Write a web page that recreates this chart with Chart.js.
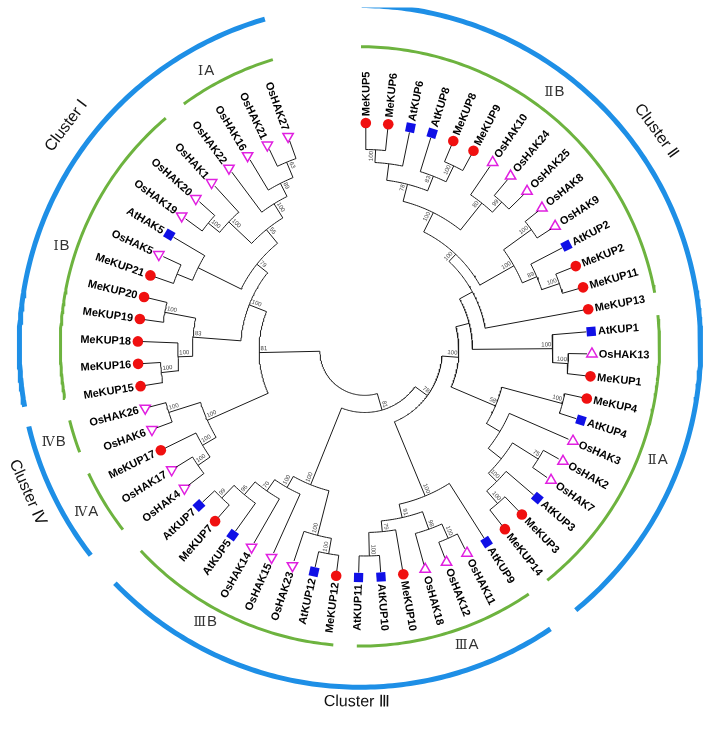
<!DOCTYPE html>
<html>
<head>
<meta charset="utf-8">
<title>Phylogenetic tree of KUP/HAK/KT potassium transporters</title>
<script src="https://cdn.jsdelivr.net/npm/chart.js@4.4.1/dist/chart.umd.min.js"></script>
<style>
html,body{margin:0;padding:0;background:#ffffff;overflow:hidden;}
canvas{display:block;}
</style>
</head>
<body>
<canvas id="tree" width="714" height="729"></canvas>
<script>
// ================= DATA =================
// Leaves, in clockwise order starting at the top of the circle
const leavesIIB  = ["MeKUP5","MeKUP6","AtKUP6","AtKUP8","MeKUP8","MeKUP9","OsHAK10","OsHAK24","OsHAK25","OsHAK8","OsHAK9","AtKUP2","MeKUP2","MeKUP11","MeKUP13"];
const leavesIIA  = ["AtKUP1","OsHAK13","MeKUP1","MeKUP4","AtKUP4","OsHAK3","OsHAK2","OsHAK7","AtKUP3","MeKUP3","MeKUP14"];
const leavesIIIA = ["AtKUP9","OsHAK11","OsHAK12","OsHAK18","MeKUP10","AtKUP10","AtKUP11"];
const leavesIIIB = ["MeKUP12","AtKUP12","OsHAK23","OsHAK15","OsHAK14","AtKUP5","MeKUP7","AtKUP7"];
const leavesIV   = ["OsHAK4","OsHAK17","MeKUP17","OsHAK6","OsHAK26"];
const leavesI    = ["MeKUP15","MeKUP16","MeKUP18","MeKUP19","MeKUP20","MeKUP21","OsHAK5","AtHAK5","OsHAK19","OsHAK20","OsHAK1","OsHAK22","OsHAK16","OsHAK21","OsHAK27"];

// Internal nodes: [id, child A, child B, node depth (distance from root), bootstrap]
const nodesII = [
  ["n1","MeKUP5","MeKUP6",205,100], ["n2","n1","AtKUP6",192,null],
  ["n3","MeKUP8","MeKUP9",209,100], ["n4","AtKUP8","n3",191,83],
  ["n5","n2","n4",175,78], ["n6","OsHAK24","OsHAK25",206,99],
  ["n7","OsHAK10","n6",192,80], ["n8","n5","n7",157,100],
  ["n9","OsHAK8","OsHAK9",210,100], ["n10","MeKUP2","MeKUP11",210,100],
  ["n11","AtKUP2","n10",191,89], ["n12","n9","n11",175,100],
  ["n13","n8","n12",135,100], ["n14","n13","MeKUP13",125,null],
  ["n15","OsHAK13","MeKUP1",208,100], ["n16","AtKUP1","n15",192,100],
  ["n17","n14","n16",110,null], ["n20","MeKUP4","AtKUP4",209,100],
  ["n23","OsHAK2","OsHAK7",209,75], ["n25","MeKUP3","MeKUP14",207,100],
  ["n24","AtKUP3","n25",190,100], ["n22","n23","n24",178,null],
  ["n21","OsHAK3","n22",161,null], ["n19","n20","n21",145,58],
  ["n18","n17","n19",96,100]
];
const nodesIII = [
  ["a1","OsHAK11","OsHAK12",210,100], ["a2","a1","OsHAK18",194,98],
  ["a3","AtKUP10","AtKUP11",210,100], ["a4","MeKUP10","a3",186,79],
  ["a5","a2","a4",175,91], ["a6","AtKUP9","a5",161,100],
  ["b78","a6","n18",79,78],
  ["b1","MeKUP12","AtKUP12",211,100], ["b2","b1","OsHAK23",195,100],
  ["b3","MeKUP7","AtKUP7",210,99], ["b4","AtKUP5","b3",192,96],
  ["b5","OsHAK14","b4",175,70], ["b6","OsHAK15","b5",161,100],
  ["b7","b2","b6",148,100], ["b81","b78","b7",63.5,81]
];
const nodesIandIV = [
  ["d1","OsHAK4","OsHAK17",207,100], ["d2","d1","MeKUP17",192,100],
  ["d3","OsHAK6","OsHAK26",210,100], ["d4","d2","d3",176,100],
  ["e1","MeKUP15","MeKUP16",209,100], ["e2","e1","MeKUP18",191,100],
  ["e3","MeKUP19","MeKUP20",208,100], ["e4","e2","e3",176,83],
  ["e5","MeKUP21","OsHAK5",207,null], ["e6","e5","AtHAK5",190,null],
  ["e7","OsHAK19","OsHAK20",206,100], ["e8","e7","OsHAK1",191,100],
  ["e9","OsHAK21","OsHAK27",208,63], ["e10","OsHAK16","e9",191,89],
  ["e11","OsHAK22","e10",176,100], ["e12","e8","e11",159,55],
  ["e13","e6","e12",141,79], ["e14","e4","e13",127,100],
  ["l81","d4","e14",108,81], ["root","b81","l81",46,null]
];

// Cluster rings: names and angular extent in degrees (clockwise from top)
const clusterNames = ["Cluster Ⅱ","Cluster Ⅲ","Cluster Ⅳ","Cluster Ⅰ"];
const clusterSpans = [[0.3,140.7],[146,226],[232.2,256.4],[259.8,343.8]];
const subgroupNames = ["ⅡB","ⅡA","ⅢA","ⅢB","ⅣA","ⅣB","ⅠB","ⅠA"];
const subgroupSpans = [[0.2,79.7],[84,141.3],[145.7,180.6],[185.1,227],[232.3,244.9],[249.3,255.7],[260,319.6],[324,343.1]];

// ================= LAYOUT / STYLE =================
const W = 714, H = 729;
const TREE_CX = 365, TREE_CY = 350;          // tree centre in canvas px
const RING_DX = -5, RING_DY = -4;             // ring centre offset from tree centre
const START_DEG = 0.25, SPAN_DEG = 340;       // angular layout of leaves
const LEAF_LINE_R = 227, MARKER_R = 232, LABEL_R = 239;
const BLUE_R = 348, GREEN_R = 306;
const clusterLabelLayout = [[54,374],[180.5,363],[246.3,371],[306.9,375]];
const subgroupLabelLayout = [[37.3,328],[110.6,325],[160.2,322],[209.5,321],[239,326],[253,327],[288.8,322],[330.9,323]];
const COL_ME = "#f01010", COL_AT = "#1010e6", COL_OS = "#e020e0";
const COL_BLUE = "#1e8fe6", COL_GREEN = "#6db33f";

// ================= BUILD GEOMETRY =================
const leaves = [].concat(leavesIIB, leavesIIA, leavesIIIA, leavesIIIB, leavesIV, leavesI);
const nodes = [].concat(nodesII, nodesIII, nodesIandIV);
const STEP = SPAN_DEG / (leaves.length - 1);
const ang = {}, rad = {};
leaves.forEach((n, i) => { ang[n] = START_DEG + i * STEP; rad[n] = LEAF_LINE_R; });
nodes.forEach(([id, a, b, r]) => { ang[id] = (ang[a] + ang[b]) / 2; rad[id] = r; });

function pol(r, deg, dx = 0, dy = 0) {
  const t = deg * Math.PI / 180;
  return { x: dx + r * Math.sin(t), y: -dy + r * Math.cos(t) };
}
const GAP = { x: NaN, y: null };
function arcPts(out, r, a0, a1, dx, dy) {
  for (let t = a0; t < a1; t += 0.75) out.push(pol(r, t, dx, dy));
  out.push(pol(r, a1, dx, dy));
  out.push(GAP);
}

const treeLines = [];
nodes.forEach(([id, a, b, r]) => {
  [a, b].forEach(c => { treeLines.push(pol(r, ang[c]), pol(rad[c], ang[c]), GAP); });
  arcPts(treeLines, r, Math.min(ang[a], ang[b]), Math.max(ang[a], ang[b]), 0, 0);
});
const blueLines = [], greenLines = [];
clusterSpans.forEach(([s, e]) => arcPts(blueLines, BLUE_R, s, e, RING_DX, RING_DY));
subgroupSpans.forEach(([s, e]) => arcPts(greenLines, GREEN_R, s, e, RING_DX, RING_DY));

function markerData(prefix) {
  return leaves.filter(n => n.startsWith(prefix)).map(n => Object.assign(pol(MARKER_R, ang[n]), { a: ang[n] }));
}

// ================= TEXT PLUGIN =================
const textPlugin = {
  id: "treeText",
  afterDatasetsDraw(chart) {
    const ctx = chart.ctx, xs = chart.scales.x, ys = chart.scales.y;
    const px = p => ({ x: xs.getPixelForValue(p.x), y: ys.getPixelForValue(p.y) });
    ctx.save();
    // leaf labels
    ctx.fillStyle = "#000";
    ctx.font = "bold 11px 'Liberation Sans', Arial, sans-serif";
    ctx.textBaseline = "middle";
    leaves.forEach(n => {
      const a = ang[n], p = px(pol(LABEL_R, a));
      ctx.save(); ctx.translate(p.x, p.y);
      if (a < 180) { ctx.rotate((a - 90) * Math.PI / 180); ctx.textAlign = "left"; }
      else { ctx.rotate((a - 270) * Math.PI / 180); ctx.textAlign = "right"; }
      ctx.fillText(n, 0, 0.5);
      ctx.restore();
    });
    // bootstrap values
    ctx.fillStyle = "#444";
    ctx.font = "6px 'Liberation Sans', Arial, sans-serif";
    ctx.textBaseline = "bottom";
    nodes.forEach(([id, a, b, r, bs]) => {
      if (bs === null) return;
      const t = ang[id], p = px(pol(r - 1.5, t));
      ctx.save(); ctx.translate(p.x, p.y);
      if (t < 180) { ctx.rotate((t - 90) * Math.PI / 180); ctx.textAlign = "right"; }
      else { ctx.rotate((t - 270) * Math.PI / 180); ctx.textAlign = "left"; }
      ctx.fillText(String(bs), 0, -1);
      ctx.restore();
    });
    // cluster labels (tangential)
    ctx.fillStyle = "#111";
    ctx.font = "16px 'Liberation Sans', Arial, 'DejaVu Sans', sans-serif";
    ctx.textAlign = "center"; ctx.textBaseline = "middle";
    clusterNames.forEach((name, i) => {
      const [t, r] = clusterLabelLayout[i];
      const p = px(pol(r, t, RING_DX, RING_DY));
      let rot = t;                     // clockwise tangent
      if (t > 90 && t < 270) rot = t - 180;
      ctx.save(); ctx.translate(p.x, p.y); ctx.rotate(rot * Math.PI / 180);
      ctx.fillText(name, 0, 0);
      ctx.restore();
    });
    // sub-group labels (horizontal): Roman numeral + letter drawn as two runs
    ctx.fillStyle = "#333";
    ctx.textBaseline = "alphabetic";
    ctx.textAlign = "left";
    const fontNum = "13px 'DejaVu Serif', serif", fontLet = "15px 'Liberation Sans', Arial, sans-serif";
    subgroupNames.forEach((name, i) => {
      const [t, r] = subgroupLabelLayout[i];
      const p = px(pol(r, t, RING_DX, RING_DY));
      const num = name.slice(0, 1), let_ = name.slice(1);
      ctx.font = fontNum; const wN = ctx.measureText(num).width;
      ctx.font = fontLet; const wL = ctx.measureText(let_).width;
      const x0 = p.x - (wN + 1 + wL) / 2, yb = p.y + 5.5;
      ctx.font = fontNum; ctx.fillText(num, x0, yb);
      ctx.font = fontLet; ctx.fillText(let_, x0 + wN + 1, yb);
    });
    ctx.restore();
  }
};

// ================= CHART =================
new Chart(document.getElementById("tree"), {
  type: "scatter",
  data: {
    datasets: [
      { data: treeLines, showLine: true, borderColor: "#1a1a1a", borderWidth: 1, pointRadius: 0, spanGaps: false },
      { data: blueLines, showLine: true, borderColor: COL_BLUE, borderWidth: 5, pointRadius: 0, spanGaps: false },
      { data: greenLines, showLine: true, borderColor: COL_GREEN, borderWidth: 3, pointRadius: 0, spanGaps: false },
      { data: markerData("Me"), pointStyle: "circle", pointRadius: 5.3, backgroundColor: COL_ME, borderColor: COL_ME, borderWidth: 0 },
      { data: markerData("At"), pointStyle: "rect", pointRadius: 6.5, backgroundColor: COL_AT, borderColor: COL_AT, borderWidth: 0,
        pointRotation: c => (c.raw ? c.raw.a - 90 : 0) },
      { data: markerData("Os"), pointStyle: "triangle", pointRadius: 6, backgroundColor: "rgba(0,0,0,0)", borderColor: COL_OS, borderWidth: 1.5,
        pointRotation: c => (c.raw && c.raw.a > 180 ? 180 : 0) }
    ]
  },
  options: {
    responsive: false,
    devicePixelRatio: 1,
    animation: false,
    events: [],
    layout: { padding: 0 },
    plugins: { legend: { display: false }, tooltip: { enabled: false } },
    scales: {
      x: { type: "linear", min: -TREE_CX, max: W - TREE_CX, display: false },
      y: { type: "linear", min: -(H - TREE_CY), max: TREE_CY, display: false }
    }
  },
  plugins: [textPlugin]
});
</script>
</body>
</html>
